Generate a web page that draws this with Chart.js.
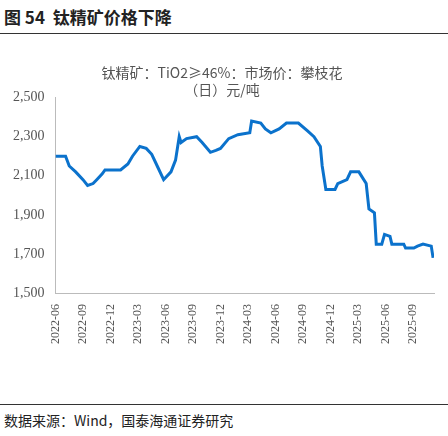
<!DOCTYPE html>
<html><head><meta charset="utf-8">
<script src="https://cdn.jsdelivr.net/npm/chart.js@4/dist/chart.umd.min.js"></script>
<style>
body{margin:0;width:448px;height:436px;background:#fff;font-family:"Noto Sans CJK SC","Liberation Serif",serif;}
#head{position:absolute;left:4px;top:4px;font-size:17px;font-weight:bold;color:#222;}
#hl{position:absolute;left:0;top:33px;width:448px;border-top:1px solid #333;}
#wrap{position:absolute;left:0;top:62px;width:448px;height:285px;}
#fl{position:absolute;left:0;top:404px;width:448px;border-top:1px solid #333;}
#foot{position:absolute;left:4px;top:410px;font-size:14px;color:#222;}
</style></head><body>
<div id="head">图 54&nbsp; 钛精矿价格下降</div>
<div id="hl"></div>
<div id="wrap"><canvas id="c" width="448" height="285"></canvas></div>
<div id="fl"></div>
<div id="foot">数据来源：Wind，国泰海通证券研究</div>
<script>
const months = [0,1.1,1.5,2.2,3.0,3.5,4.1,4.5,5.1,5.4,7.1,7.9,8.4,9.2,9.9,10.5,11.1,11.8,12.6,13.1,13.5,13.7,14.3,15.4,16.0,16.9,17.5,18.0,18.9,19.9,21.2,21.4,22.4,22.9,23.5,24.4,25.2,26.5,27.5,28.2,28.9,29.1,29.5,30.5,30.8,31.8,32.2,33.1,33.9,34.2,34.8,35.0,35.6,35.9,36.5,36.7,38.0,38.2,39.1,39.5,40.1,41.0,41.2];
const prices = [2200,2200,2150,2120,2080,2050,2060,2080,2110,2130,2130,2160,2200,2250,2240,2210,2150,2080,2120,2180,2300,2270,2290,2300,2270,2220,2230,2240,2290,2310,2320,2380,2370,2340,2320,2340,2370,2370,2330,2300,2250,2150,2030,2030,2060,2080,2120,2120,2060,1930,1910,1750,1750,1800,1790,1750,1750,1730,1730,1740,1750,1740,1680];
const startYear = 2022, startMonth = 6;
const monthLabel = m => {
  const t = startYear * 12 + startMonth - 1 + m;
  return Math.floor(t / 12) + '-' + String(t % 12 + 1).padStart(2, '0');
};
new Chart(document.getElementById('c'), {
  type: 'line',
  data: { datasets: [{
    data: months.map((m, i) => ({x: m, y: prices[i]})),
    borderColor: '#0b72cc', borderWidth: 3, pointRadius: 0, tension: 0
  }]},
  options: {
    responsive: false, animation: false,
    layout: {padding: {right: 14, left: 10, top: 0}},
    plugins: {
      legend: {display: false},
      title: {display: true, text: ['钛精矿：TiO2≥46%：市场价：攀枝花', '（日）元/吨'],
        color: '#555', font: {size: 14, weight: 'normal', family: '"Noto Sans CJK SC", serif'}, padding: {top: 2, bottom: 0}}
    },
    scales: {
      x: {type: 'linear', min: 0, max: 41.3,
        grid: {display: false}, border: {color: '#bbb'},
        afterBuildTicks: ax => { ax.ticks = []; for (let m = 0; m <= 39; m += 3) ax.ticks.push({value: m}); },
        ticks: {callback: v => monthLabel(v), maxRotation: 90, minRotation: 90, color: '#555',
          font: {size: 12, family: '"Liberation Serif", serif'}}},
      y: {min: 1500, max: 2500,
        grid: {display: false}, border: {color: '#bbb'},
        ticks: {stepSize: 100, color: '#555', callback: v => v.toLocaleString('en-US'),
          font: {size: 14, family: '"Liberation Serif", serif'}}}
    }
  }
});
</script>
</body></html>
